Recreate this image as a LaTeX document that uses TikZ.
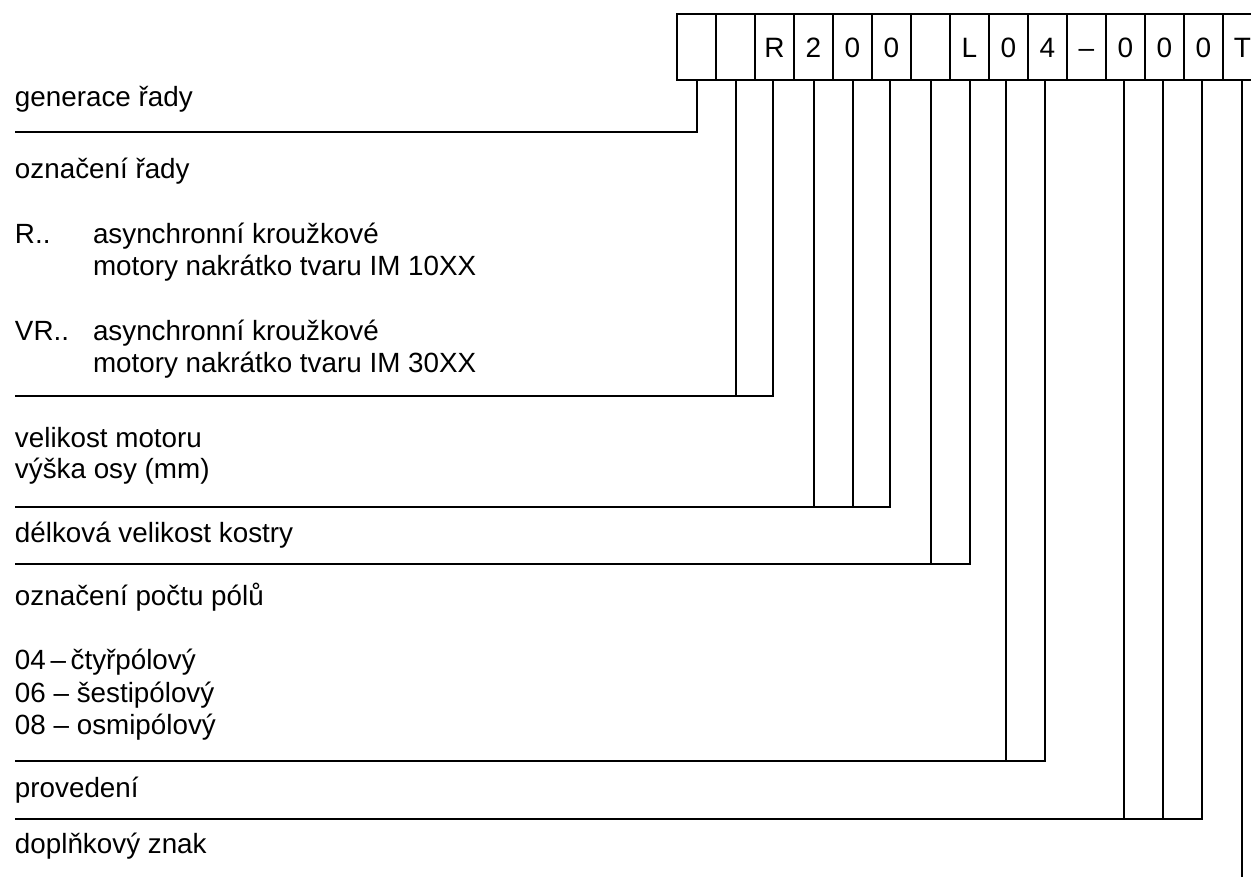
\documentclass[tikz,border=0pt]{standalone}
\usepackage{fontspec}
\setmainfont{Liberation Sans}
\begin{document}
\begin{tikzpicture}[x=1pt,y=-1pt,line width=2pt]
\tikzset{
  cell/.style={draw,minimum width=39pt,minimum height=66pt,inner sep=0pt,outer sep=0pt,
    anchor=north west,text height=20pt,text depth=0pt,font=\fontsize{28}{30}\selectfont},
  lbl/.style={anchor=base west,inner sep=0pt,outer sep=0pt,font=\fontsize{27.8}{32}\selectfont},
  conn/.style={line width=2pt,line join=miter}
}
\useasboundingbox (0,0) rectangle (1251,876);
% code boxes
\foreach \i/\t in {1/{},2/{},3/R,4/2,5/0,6/0,7/{},8/L,9/0,10/4,11/–,12/0,13/0,14/0,15/T}
  \node[cell] (b\i) at ({677+39*(\i-1)},14) {\t};
% labels
\node[lbl] (t1) at (15,106) {generace řady};
\node[lbl] (t2) at (15,178) {označení řady};
\node[lbl] (t3a) at (15,243) {R..};
\node[lbl] (t3b) at (93,243) {asynchronní kroužkové};
\node[lbl] (t3c) at (93,275) {motory nakrátko tvaru IM 10XX};
\node[lbl] (t4a) at (15,340) {VR..};
\node[lbl] (t4b) at (93,340) {asynchronní kroužkové};
\node[lbl] (t4c) at (93,372) {motory nakrátko tvaru IM 30XX};
\node[lbl] (t5a) at (15,447) {velikost motoru};
\node[lbl] (t5b) at (15,478) {výška osy (mm)};
\node[lbl] (t6) at (15,542) {délková velikost kostry};
\node[lbl] (t7) at (15,605) {označení počtu pólů};
\node[lbl] (t8a) at (15,669) {04\,–\,čtyřpólový};
\node[lbl] (t8b) at (15,702) {06 – šestipólový};
\node[lbl] (t8c) at (15,734) {08 – osmipólový};
\node[lbl] (t9) at (15,797) {provedení};
\node[lbl] (t10) at (15,853) {doplňkový znak};
% line ends
\coordinate (L1) at (15,132);
\coordinate (L2) at (15,396);
\coordinate (L3) at (15,507);
\coordinate (L4) at (15,564);
\coordinate (L5) at (15,761);
\coordinate (L6) at (15,819);
\coordinate (E) at ([xshift=-1pt]b15.south |- 0,880);
% connectors
\draw[conn] (b1.south) |- (L1);
\draw[conn] (b2.south) |- (L2);
\draw[conn] ([xshift=-2pt]b3.south) |- (L2);
\draw[conn] (b4.south) |- (L3);
\draw[conn] (b5.south) |- (L3);
\draw[conn] ([xshift=-2pt]b6.south) |- (L3);
\draw[conn] (b7.south) |- (L4);
\draw[conn] (b8.south) |- (L4);
\draw[conn] ([xshift=-3pt]b9.south) |- (L5);
\draw[conn] ([xshift=-3pt]b10.south) |- (L5);
\draw[conn] ([xshift=-2pt]b12.south) |- (L6);
\draw[conn] ([xshift=-2pt]b13.south) |- (L6);
\draw[conn] ([xshift=-2pt]b14.south) |- (L6);
\draw[conn] ([xshift=-1pt]b15.south) -- (E);
\end{tikzpicture}
\end{document}
